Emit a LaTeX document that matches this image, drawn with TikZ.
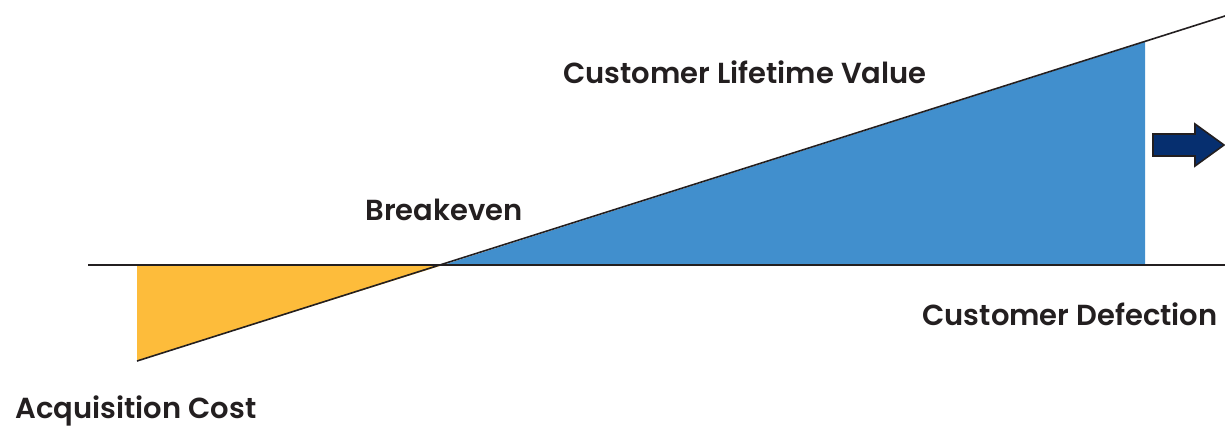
\documentclass[tikz,border=0pt]{standalone}
\usepackage{fontspec}
\setmainfont{Poppins}[BoldFont={Poppins SemiBold}]
\definecolor{costyellow}{HTML}{FDBC3B}
\definecolor{valueblue}{HTML}{418FCD}
\definecolor{navy}{HTML}{062F6F}
\definecolor{ink}{HTML}{231F20}
\tikzset{
  lbl/.style={font=\bfseries\fontsize{29}{34}\selectfont, text=ink, inner sep=0pt},
  axisline/.style={draw=ink, line width=2pt},
  arrowshape/.style={fill=navy, draw=ink, line width=1.6pt, line join=miter}
}
\begin{document}
\begin{tikzpicture}[x=1pt,y=-1pt]
\useasboundingbox (0,0) rectangle (1225,429);
% key points
\coordinate (axL) at (88,265);
\coordinate (axR) at (1225,265);
\coordinate (costTop) at (137,265);
\coordinate (costBot) at (137,361);
\coordinate (be) at (443,265);
\coordinate (blueTop) at (1145,42);
\coordinate (blueBot) at (1145,265);
\coordinate (lineEnd) at (1225,16);
% fills
\fill[costyellow] (costTop) -- (costBot) -- (be) -- cycle;
\fill[valueblue] (be) -- (blueTop) -- (blueBot) -- cycle;
% lines
\draw[axisline] (axL) -- (axR);
\draw[draw=ink, line width=1.6pt] (costBot) -- (lineEnd);
% arrow
\draw[arrowshape] (1153,134) -- (1195,134) -- (1195,124) -- (1224,145) -- (1195,166) -- (1195,156) -- (1153,156) -- cycle;
% labels
\node[lbl] (clv) at (745,72) {Customer Lifetime Value};
\node[lbl] (brk) at (444,210) {Breakeven};
\node[lbl] (def) at (1070,314) {Customer Defection};
\node[lbl] (acq) at (136,411) {Acquisition Cost};
\end{tikzpicture}
\end{document}
